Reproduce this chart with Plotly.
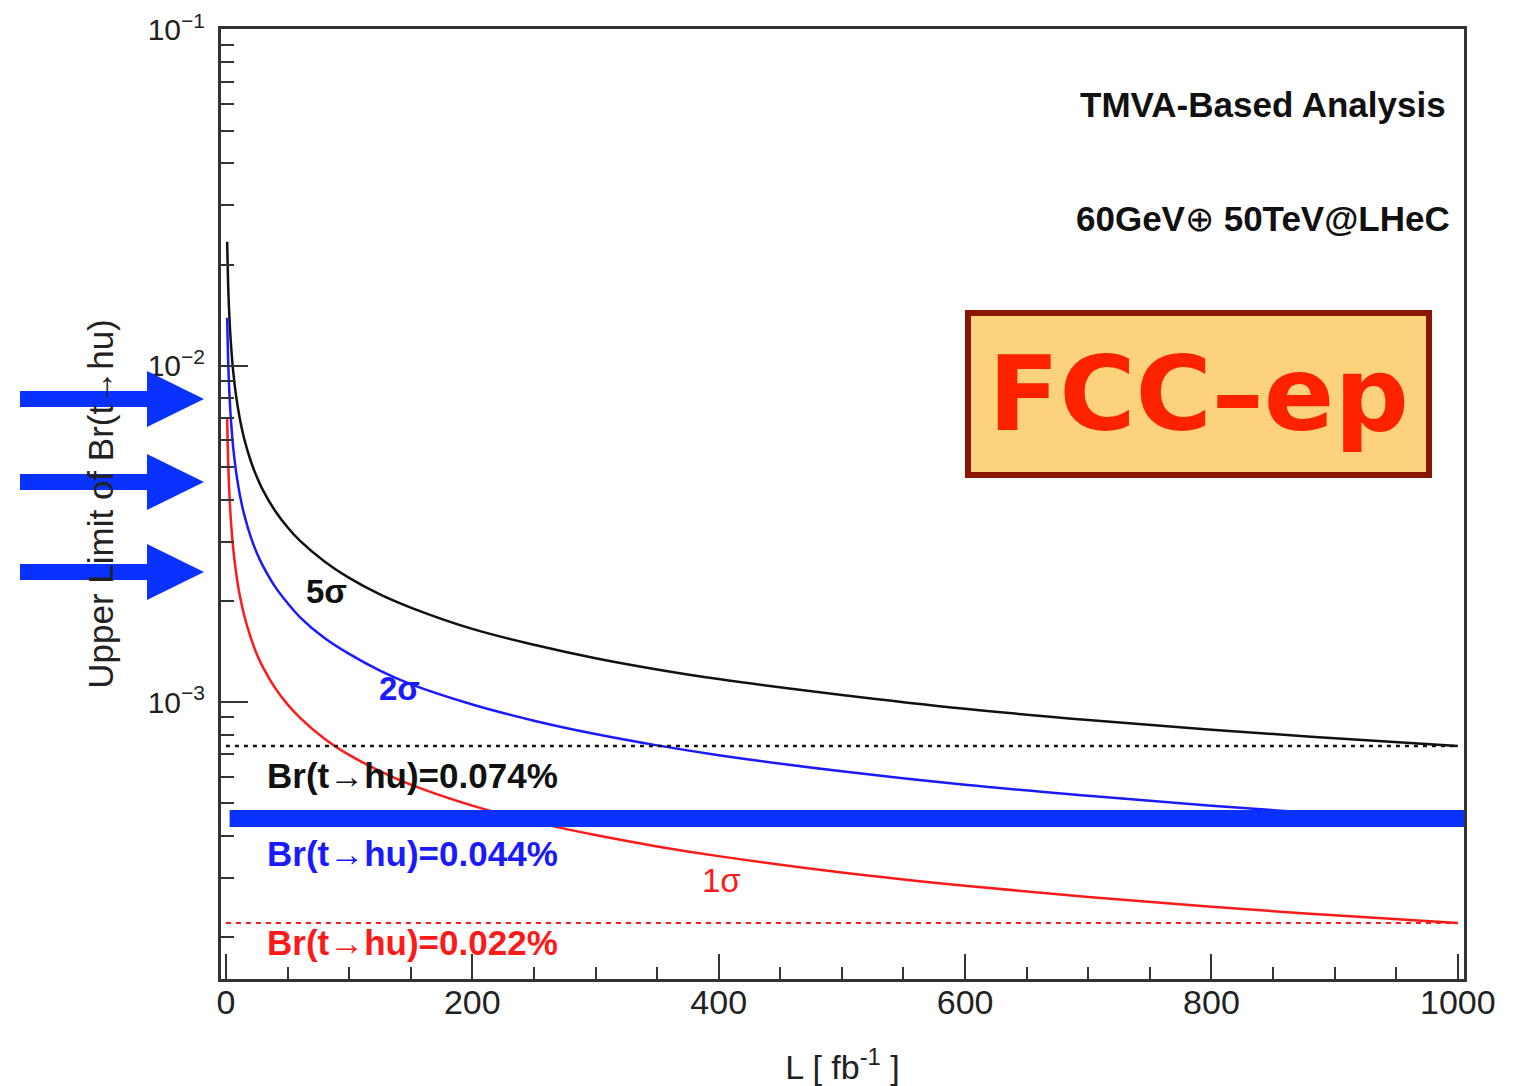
import math
import plotly.graph_objects as go

# ---------------- data ----------------
lumi = [1, 2, 3, 4, 5, 6, 8, 10, 12, 15, 20, 25, 30, 40, 50, 60, 80, 100, 125, 150,
        200, 250, 300, 350, 400, 500, 600, 700, 800, 900, 1000]
limit_5sigma = [0.0234, 0.01655, 0.01351, 0.0117, 0.01046, 0.00955, 0.00827, 0.0074, 0.00675,
                0.00604, 0.00523, 0.00468, 0.00427, 0.0037, 0.00331, 0.00302, 0.00262, 0.00234,
                0.00209, 0.00191, 0.00165, 0.00148, 0.00135, 0.00125, 0.00117, 0.00105,
                0.000955, 0.000884, 0.000827, 0.00078, 0.00074]
limit_2sigma = [0.0139, 0.00983, 0.00803, 0.00695, 0.00622, 0.00567, 0.00491, 0.0044, 0.00401,
                0.00359, 0.00311, 0.00278, 0.00254, 0.0022, 0.00197, 0.00179, 0.00155, 0.00139,
                0.00124, 0.00113, 0.000983, 0.00088, 0.000803, 0.000743, 0.000695, 0.000622,
                0.000567, 0.000526, 0.000491, 0.000463, 0.00044]
limit_1sigma = [0.00696, 0.00492, 0.00402, 0.00348, 0.00311, 0.00284, 0.00246, 0.0022, 0.00201,
                0.0018, 0.00156, 0.00139, 0.00127, 0.0011, 0.000984, 0.000899, 0.000778, 0.000696,
                0.000623, 0.000568, 0.000492, 0.00044, 0.000402, 0.000372, 0.000348, 0.000311,
                0.000284, 0.000263, 0.000246, 0.000232, 0.00022]

ref_lumi = [0, 1000]
br_5sigma = 7.4e-4   # Br(t->hu)=0.074%
br_2sigma = 4.5e-4   # highlighted band, Br(t->hu)=0.044%
br_1sigma = 2.2e-4   # Br(t->hu)=0.022%

x_ticks = [0, 200, 400, 600, 800, 1000]
y_ticks = [1e-3, 1e-2, 1e-1]
y_tick_text = ["10<sup>\u22123</sup>", "10<sup>\u22122</sup>", "10<sup>\u22121</sup>"]

# ---------------- layout geometry ----------------
OFF = 6  # page offset observed
W, H = 1509, 1078
ML, MT = 213, 21
PW, PH = 1243, 950
MR, MB = W - ML - PW, H - MT - PH
FONT = "Liberation Sans, Arial, Helvetica, sans-serif"
BLUE_MARK = "#0a32ff"


def px(xs):
    return (xs - OFF - ML) / PW


def py(ys):
    return (MT + PH - (ys - OFF)) / PH


fig = go.Figure()

fig.add_trace(go.Scatter(x=lumi, y=limit_5sigma, mode="lines", line=dict(color="#111111", width=2.5, shape="spline"), name="5σ"))
fig.add_trace(go.Scatter(x=lumi, y=limit_2sigma, mode="lines", line=dict(color="#1a1aff", width=2.5, shape="spline"), name="2σ"))
fig.add_trace(go.Scatter(x=lumi, y=limit_1sigma, mode="lines", line=dict(color="#ff1a1a", width=2.5, shape="spline"), name="1σ"))

fig.add_trace(go.Scatter(x=ref_lumi, y=[br_5sigma] * 2, mode="lines", line=dict(color="#111111", width=2.5, dash="4px,5px")))
fig.add_trace(go.Scatter(x=ref_lumi, y=[br_1sigma] * 2, mode="lines", line=dict(color="#ff1a1a", width=2, dash="5px,5px")))
fig.add_trace(go.Scatter(x=[3, 1010], y=[br_2sigma] * 2, mode="lines", line=dict(color=BLUE_MARK, width=17)))

annotations = []
# curve labels
for txt, L, v, col in [("<b>5σ</b>", 82, -2.671, "#111111"), ("<b>2σ</b>", 141, -2.961, "#1a1aff"), ("1σ", 402, -3.531, "#ff1a1a")]:
    annotations.append(dict(x=L, y=v, xref="x", yref="y", text=txt, xanchor="center", yanchor="middle",
                            showarrow=False, font=dict(family=FONT, size=33, color=col)))
for txt, v, col in [("Br(t→hu)=0.074%", -3.220, "#111111"), ("Br(t→hu)=0.044%", -3.451, "#1a1aff"), ("Br(t→hu)=0.022%", -3.715, "#ff1a1a")]:
    annotations.append(dict(x=31.6, y=v, xref="x", yref="y", text="<b>%s</b>" % txt, xanchor="left", yanchor="middle",
                            showarrow=False, font=dict(family=FONT, size=35, color=col)))

annotations.append(dict(x=px(1446), y=py(102), xref="paper", yref="paper", xanchor="right", yanchor="middle", showarrow=False,
                        text="<b>TMVA-Based Analysis</b>", font=dict(family=FONT, size=35, color="#111111")))
annotations.append(dict(x=px(1450), y=py(217), xref="paper", yref="paper", xanchor="right", yanchor="middle", showarrow=False,
                        text="<b>60GeV</b>⊕<b> 50TeV@LHeC</b>", font=dict(family=FONT, size=35, color="#111111")))
annotations.append(dict(x=px(1196.5), y=py(392), xref="paper", yref="paper", xanchor="center", yanchor="middle", showarrow=False,
                        text="<b>FCC–ep</b>", font=dict(family="DejaVu Sans, sans-serif", size=104, color="#ff2200"),
                        bgcolor="#fdd27c", bordercolor="#8a1500", borderwidth=6, borderpad=0,
                        width=455, height=156, align="center", valign="middle"))

shapes = []
for c in [397, 480, 570]:
    pts = [(18, c - 8), (145, c - 8), (145, c - 28), (202, c), (145, c + 28), (145, c + 8), (18, c + 8)]
    path = "M " + " L ".join("%.5f,%.5f" % (px(a), py(b)) for a, b in pts) + " Z"
    shapes.append(dict(type="path", xref="paper", yref="paper", path=path, fillcolor=BLUE_MARK, line=dict(width=0), layer="above"))

y_minor = [m * 10 ** e for e in (-4, -3, -2) for m in range(2, 10) if m * 10 ** e >= 1.5e-4]
x_minor = [v for v in range(50, 1001, 50) if v % 200 != 0]

fig.update_layout(
    width=W, height=H,
    margin=dict(l=ML, r=MR, t=MT, b=MB, autoexpand=False),
    paper_bgcolor="white", plot_bgcolor="white",
    showlegend=False,
    annotations=annotations,
    shapes=shapes,
    xaxis=dict(range=[-4, 1005], showgrid=False, zeroline=False, automargin=False,
               showline=True, mirror=True, linecolor="#333333", linewidth=3,
               tickvals=x_ticks, ticks="inside", ticklen=25, tickwidth=2, tickcolor="#333333",
               minor=dict(tickvals=x_minor, ticks="inside", ticklen=12, tickwidth=2, tickcolor="#333333"),
               tickfont=dict(family=FONT, size=34, color="#222222"), ticklabelstandoff=-9,
               title=dict(text="L [ fb<sup>-1</sup> ]", font=dict(family=FONT, size=34, color="#222222"), standoff=36)),
    yaxis=dict(type="log", range=[math.log10(1.5e-4), -0.998], showgrid=False, zeroline=False, automargin=False,
               showline=True, mirror=True, linecolor="#333333", linewidth=3,
               tickvals=y_ticks, ticktext=y_tick_text, ticks="inside", ticklen=27, tickwidth=2, tickcolor="#333333",
               minor=dict(tickvals=y_minor, ticks="inside", ticklen=13, tickwidth=2, tickcolor="#333333"),
               tickfont=dict(family=FONT, size=30, color="#222222"), ticklabelstandoff=7,
               title=dict(text="Upper Limit of Br(t→hu)", font=dict(family=FONT, size=35, color="#222222"), standoff=24)),
)

fig.write_html("out.html")
